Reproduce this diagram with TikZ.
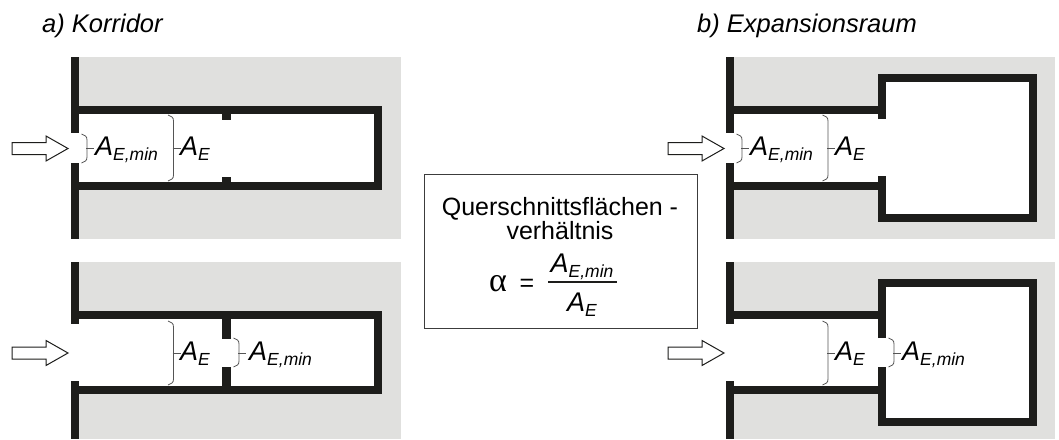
\documentclass[tikz,border=0pt]{standalone}
\usepackage{fontspec}
\setmainfont{Liberation Sans}
\newfontfamily\symbfont{Liberation Serif}
\usepackage{xcolor}
\usepackage{tikz}
\usetikzlibrary{positioning}
\definecolor{wallcol}{HTML}{1D1D1B}
\definecolor{rockcol}{HTML}{E0E0DE}
\definecolor{markcol}{HTML}{555555}
\newcommand{\areamin}{\textit{A}\raisebox{-5.5pt}{\fontsize{17.5}{17.5}\selectfont\textit{E,min}}}
\newcommand{\areafull}{\textit{A}\raisebox{-5.5pt}{\fontsize{17.5}{17.5}\selectfont\textit{E}}}

\begin{document}
\begin{tikzpicture}[x=1pt, y=-1pt, line join=miter,
			wall/.style={draw=wallcol, line width=8pt},
			baffle/.style={draw=wallcol, line width=9pt},
			rock/.style={fill=rockcol, draw=none},
			room/.style={fill=white, draw=none},
			flowarrow/.style={draw=wallcol, fill=white, line width=1pt},
			bracemark/.style={draw=markcol, line width=0.8pt},
			label/.style={anchor=base west, inner sep=0pt, font=\fontsize{27}{27}\selectfont},
			headline/.style={anchor=base west, inner sep=0pt, font=\fontsize{25.5}{25.5}\selectfont\itshape},
			boxtext/.style={anchor=base, inner sep=0pt, font=\fontsize{25}{25}\selectfont}
		]
		\useasboundingbox (0,0) rectangle (1059,439);
		% Rock background
		\fill [rock] (79,57) rectangle (401,239);
		\fill [rock] (79,262) rectangle (401,439);
		\fill [rock] (734,57) rectangle (1055,239);
		\fill [rock] (734,262) rectangle (1055,439);
		% Open rooms
		\fill [room] (79,110) rectangle (378,186);
		\fill [room] (79,315) rectangle (378,390);
		\fill [room] (734,110) rectangle (882,186);
		\fill [room] (734,315) rectangle (882,390);
		\fill [room] (882,78) rectangle (1033,218);
		\fill [room] (882,283) rectangle (1033,422);
		% Front walls
		\foreach \x in {75,730} {
			\draw [wall] (\x,57) -- (\x,133);
			\draw [wall] (\x,163) -- (\x,239);
			\draw [wall] (\x,262) -- (\x,324);
			\draw [wall] (\x,381) -- (\x,439);
		}
		% a) corridor
		\draw [wall] (75,110) -- (378,110) -- (378,186) -- (75,186);
		\draw [wall] (75,315) -- (378,315) -- (378,390) -- (75,390);
		\draw [baffle] (226.5,114) -- (226.5,120);
		\draw [baffle] (226.5,177) -- (226.5,182);
		\draw [baffle] (226.5,319) -- (226.5,339);
		\draw [baffle] (226.5,367) -- (226.5,386);
		% b) expansion chamber
		\draw [wall] (734,110) -- (882,110);
		\draw [wall] (734,186) -- (882,186);
		\draw [wall] (882,119) -- (882,78) -- (1033,78) -- (1033,218) -- (882,218) -- (882,176);
		\draw [wall] (734,315) -- (882,315);
		\draw [wall] (734,390) -- (882,390);
		\draw [wall] (882,338) -- (882,283) -- (1033,283) -- (1033,422) -- (882,422) -- (882,367);
		% Inflow arrows
		\foreach \x/\y in {12/148.5, 12/353, 668/148.5, 668/353} {
			\draw [flowarrow, shift={(\x,\y)}] (0,-6) -- (34,-6) -- (34,-12.5) -- (56,0) -- (34,12.5) -- (34,6) -- (0,6) -- cycle;
		}
		% Braces
		\foreach \x/\ya/\yb/\ym in {87/134/163/148, 173.5/115/181/148, 173.5/321/385/353, 239/338/367/353, 742/134/163/148, 828/115/181/148, 828/321/385/353, 894/338/367/353} {
			\draw [bracemark] (\x-5.5,\ya) -- (\x-1.5,\ya+2) .. controls (\x-0.5,\ya+3) and (\x,\ya+4) .. (\x,\ya+6) -- (\x,\yb-6) .. controls (\x,\yb-4) and (\x-0.5,\yb-3) .. (\x-1.5,\yb-2) -- (\x-5.5,\yb);
			\draw [bracemark] (\x-1,\ym) -- (\x+7,\ym);
		}
		% Place labels
		\node [headline] (titlea) at (42,32) {a) Korridor};
		\node [headline] (titleb) at (697,32) {b) Expansionsraum};
		\node [label] (minat) at (95,155) {\areamin};
		\node [label] (fullat) at (180,155) {\areafull};
		\node [label] (fullab) at (180,360) {\areafull};
		\node [label] (minab) at (249,360) {\areamin};
		\node [label] (minbt) at (750,155) {\areamin};
		\node [label] (fullbt) at (835,155) {\areafull};
		\node [label] (fullbb) at (835,360) {\areafull};
		\node [label] (minbb) at (902,360) {\areamin};
		% Formula box
		\draw [draw=markcol!70!black, line width=1pt] (424,174) rectangle (697,328);
		\node [boxtext] (boxtitle) at (560,215) {Querschnittsflächen -};
		\node [boxtext] (boxsub) at (560,239) {verhältnis};
		\node [boxtext, font=\fontsize{34}{34}\selectfont\symbfont] (alpha) at (498,291) {α};
		\node [boxtext] (equals) at (527,291) {=};
		\node [label, anchor=base] (fracup) at (582,272) {\areamin};
		\node [label, anchor=base] (fracdown) at (582,311) {\areafull};
		\coordinate (barleft) at (548,282);
		\coordinate (barright) at (617,282);
		\draw [draw=wallcol, line width=1.5pt] (barleft) -- (barright);
	\end{tikzpicture}
\end{document}
